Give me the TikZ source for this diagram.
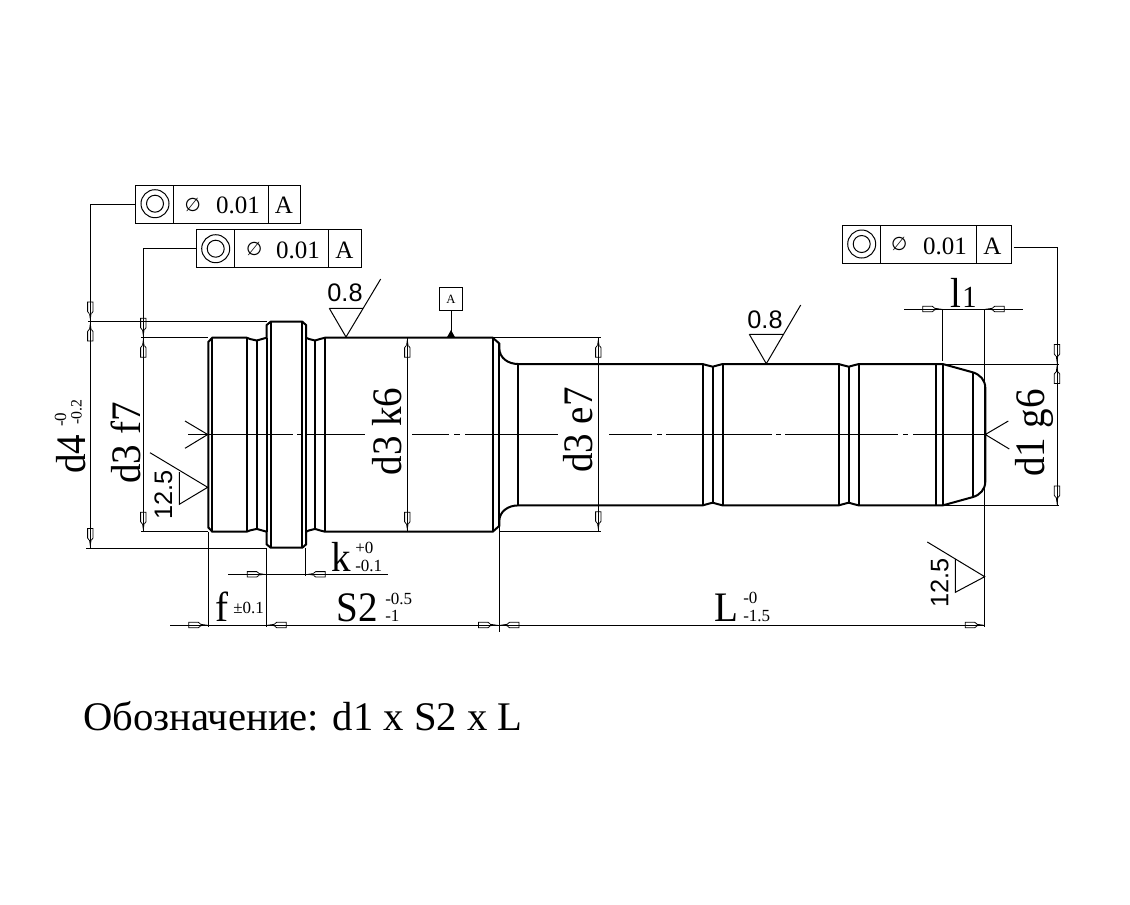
\documentclass[tikz,border=0pt]{standalone}
\usepackage{fontspec}
\setmainfont{Liberation Serif}
\newfontfamily\dimfont[FakeStretch=0.93]{Liberation Serif}
\newfontfamily\rsfont{Liberation Sans}
\newfontfamily\symfont{DejaVu Sans}
\tikzset{
  x=0.75pt,y=-0.75pt,
  thinline/.style={line width=0.75pt,line cap=butt},
  profile/.style={line width=1.5pt,line join=miter},
  centerline/.style={line width=0.75pt},
  big/.style={font=\dimfont\fontsize{31.5}{31.5}\selectfont,inner sep=0pt},
  tol/.style={font=\fontsize{12.75}{13}\selectfont,inner sep=0pt},
  rough/.style={font=\rsfont\fontsize{19}{19}\selectfont,inner sep=0pt},
  fcftext/.style={font=\fontsize{18.75}{19}\selectfont,inner sep=0pt,anchor=base},
  fcfsym/.style={font=\symfont\fontsize{14}{14}\selectfont,inner sep=0pt},
  frame/.style={draw,line width=0.75pt,inner sep=0pt,minimum height=28.5pt},
  dimtip/.pic={
    \fill (0,0)--(8,-1.2)--(8,1.2)--cycle;
    \draw[line width=0.6pt] (8,-1.2)--(10,-2.7)--(19.5,-2.7)--(19.5,2.7)--(10,2.7)--(8,1.2);
  }
}
\begin{document}
\begin{tikzpicture}
\useasboundingbox (0,0) rectangle (1130,904);
% shaft outline
\draw[profile] (208.3,342)--(212.3,337.7)--(246.7,337.7)--(250,339)--(256.7,340.5)--(262,339)--(266.7,337.7)
 --(266.7,325)--(270.7,321.7)--(302.3,321.7)--(306,325)--(306,337.7)--(309,339)--(315,340.5)--(320,339)--(325,337.7)
 --(492.7,337.7)--(499.3,343.5)--(499.3,348) .. controls (499.3,358) and (508,364) .. (518.3,364)
 --(702.7,364)--(706,365)--(712.7,366.7)--(717,365.5)--(722.7,364)--(838.7,364)--(842,365)--(848.7,366.7)--(853,365.5)--(859,364)
 --(942.7,364)--(972.7,372.3) .. controls (980,374.5) and (985.3,380) .. (985.3,388)
 --(985.3,481.4) .. controls (985.3,489.4) and (980,495) .. (972.7,497.1)
 --(942.7,505.4)--(859,505.4)--(853,503.9)--(848.7,502.7)--(842,504.4)--(838.7,505.4)--(722.7,505.4)--(717,503.9)--(712.7,502.7)--(706,504.4)--(702.7,505.4)
 --(518.3,505.4) .. controls (508,505.4) and (499.3,511.4) .. (499.3,521.4)
 --(499.3,525.9)--(492.7,531.7)--(325,531.7)--(320,530.4)--(315,528.9)--(309,530.4)--(306,531.7)
 --(306,544.4)--(302.3,547.7)--(270.7,547.7)--(266.7,544.4)--(266.7,531.7)--(262,530.4)--(256.7,528.9)--(250,530.4)--(246.7,531.7)
 --(212.3,531.7)--(208.3,527.4)--cycle;
% internal verticals
\draw[profile]
 (212.3,337.7)--(212.3,531.7)
 (246.7,337.7)--(246.7,531.7)
 (256.7,340.5)--(256.7,528.9)
 (266.7,337.7)--(266.7,531.7)
 (270.7,321.7)--(270.7,547.7)
 (302.3,321.7)--(302.3,547.7)
 (306,337.7)--(306,531.7)
 (315,340.5)--(315,528.9)
 (325,337.7)--(325,531.7)
 (492.7,337.7)--(492.7,531.7)
 (499.3,343.5)--(499.3,525.9)
 (518.3,364)--(518.3,505.4)
 (702.7,364)--(702.7,505.4)
 (712.7,366.7)--(712.7,502.7)
 (722.7,364)--(722.7,505.4)
 (838.7,364)--(838.7,505.4)
 (848.7,366.7)--(848.7,502.7)
 (859,364)--(859,505.4)
 (936,364)--(936,505.4)
 (942.7,364)--(942.7,505.4)
 (972.7,372.3)--(972.7,497.1);
% centre line
\draw[centerline]
 (188,434.5)--(293,434.5) (297,434.5)--(302,434.5) (305,434.5)--(365,434.5)
 (412,434.5)--(449,434.5) (454,434.5)--(460,434.5) (465,434.5)--(558,434.5)
 (609,434.5)--(652,434.5) (657,434.5)--(662,434.5) (666,434.5)--(771.5,434.5)
 (776,434.5)--(781,434.5) (785,434.5)--(898,434.5) (903,434.5)--(908,434.5) (913,434.5)--(985,434.5);
% feature control frames
\node[frame,minimum width=123.75pt] (fcfa) at (217.8,204.2) {};
\node[frame,minimum width=124pt] (fcfb) at (279,248.5) {};
\node[frame,minimum width=127pt] (fcfc) at (927,244.3) {};
\draw[thinline] (173.7,185.2)--(173.7,223.2) (268.7,185.2)--(268.7,223.2)
 (234.7,229.5)--(234.7,267.5) (328.3,229.5)--(328.3,267.5)
 (880.3,225.3)--(880.3,263.3) (976.3,225.3)--(976.3,263.3);
\draw[thinline] (155,203.7) circle (14) (155,203.7) circle (8.5)
 (215.7,248.7) circle (14) (215.7,248.7) circle (8.5)
 (861.7,244) circle (14) (861.7,244) circle (8.5);
\node[fcfsym] (phia) at (192.7,204.5) {∅};
\node[fcfsym] (phib) at (254.3,248.7) {∅};
\node[fcfsym] (phic) at (899.3,244.3) {∅};
\node[fcftext] (vala) at (238,213.3) {0.01};
\node[fcftext] (valb) at (298,258.7) {0.01};
\node[fcftext] (valc) at (945,254) {0.01};
\node[fcftext] (refa) at (284,213.3) {A};
\node[fcftext] (refb) at (344.5,258.7) {A};
\node[fcftext] (refc) at (992.3,254) {A};
% leaders
\coordinate (d4end) at (90.3,548);
\coordinate (d3fend) at (143.3,531.7);
\coordinate (d1end) at (1057,505.4);
\draw[thinline] (fcfa.west) -- (90.3,204.2) -- (d4end);
\draw[thinline] (fcfb.west) -- (143.3,248.5) -- (d3fend);
\draw[thinline] (1013.5,247.3) -- (1057,247.3) -- (d1end);
% extension lines
\draw[thinline]
 (88,321.5)--(266.7,321.5) (86,548)--(266.7,548)
 (141,337.7)--(208.3,337.7) (141,531.7)--(208.3,531.7)
 (208.3,531.7)--(208.3,627) (266.7,548)--(266.7,627) (305.7,548)--(305.7,576)
 (499.3,526)--(499.3,632)
 (492.7,337.7)--(600.7,337.7) (499.3,531.2)--(600.7,531.2)
 (942.7,309)--(942.7,360.7) (984.7,309)--(984.7,627)
 (942.7,364)--(1059,364) (942.7,505.4)--(1059,505.4);
% dimension lines
\draw[thinline]
 (407.3,337.7)--(407.3,531.7)
 (598.3,337.7)--(598.3,531.2)
 (228.3,574.3)--(387.7,574.3)
 (170,625)--(984.7,625)
 (904,309)--(1023.3,309);
% arrow tips
\foreach \px/\py/\ang in {
  90.3/321.5/90, 90.3/321.5/-90, 90.3/548/90,
  143.3/337.7/90, 143.3/337.7/-90, 143.3/531.7/90,
  407.3/337.7/-90, 407.3/531.7/90,
  598.3/337.7/-90, 598.3/531.2/90,
  1057/364/90, 1057/364/-90, 1057/505.4/90,
  942.3/309/180, 984.7/309/0,
  266.7/574.3/180, 305.7/574.3/0,
  208.3/625/180, 266.7/625/0,
  498/625/180, 499.5/625/0, 984.7/625/180}
{ \pic[rotate=\ang] at (\px,\py) {dimtip}; }
% centre marks
\draw[thinline] (185,421)--(207.7,434.5)--(185,448.3);
\draw[thinline] (1008.3,421)--(985.3,434.5)--(1009.3,449);
% roughness symbols
\draw[thinline] (150,452.7)--(207.7,487.3)--(179.3,504.3)--(179.3,472);
\draw[thinline] (927.3,542)--(984.7,576.7)--(955.3,592.3)--(955.3,559.3);
\draw[thinline] (329.3,308.3)--(363.3,308.3) (346,337)--(380.7,279) (329.3,308.3)--(346,337);
\draw[thinline] (749.3,334.3)--(783.3,334.3) (766.3,363.7)--(800.7,305) (749.3,334.3)--(766.3,363.7);
\node[rough,rotate=90] (ra) at (163.5,495) {12.5};
\node[rough,rotate=90] (rb) at (939.7,583) {12.5};
\node[rough] (rc) at (345,293) {0.8};
\node[rough] (rd) at (765,320) {0.8};
% datum
\node[draw,line width=0.75pt,minimum width=17.5pt,minimum height=17.5pt,inner sep=0pt,font=\fontsize{9.5}{10}\selectfont] (datum) at (451,299) {A};
\coordinate (datumfoot) at (451,337);
\draw[thinline] (datum.south) -- (datumfoot);
\fill (446.7,337.7)--(455.3,337.7)--(451,330)--cycle;
% dimension texts
\node[big,rotate=90,anchor=base] (td4) at (85,454) {d4};
\node[tol,rotate=90,anchor=base west] (td4a) at (66,427) {-0};
\node[tol,rotate=90,anchor=base west,font=\fontsize{11.85}{12}\selectfont] (td4b) at (81.7,425) {-0.2};
\node[big,rotate=90,anchor=base] (tf7) at (140,443) {d3 f7};
\node[big,rotate=90,anchor=base] (tk6) at (401.7,431.5) {d3 k6};
\node[big,rotate=90,anchor=base] (te7) at (592.7,430) {d3 e7};
\node[big,rotate=90,anchor=base] (tg6) at (1044,433) {d1 g6};
\node[big,anchor=base west] (tl1a) at (950,307) {l};
\node[big,anchor=base west,font=\dimfont\fontsize{23}{23}\selectfont] (tl1b) at (962,307) {1};
\node[big,anchor=base west] (tk) at (331.7,571) {k};
\node[tol,anchor=base west] (tka) at (355,553.3) {+0};
\node[tol,anchor=base west] (tkb) at (355,571) {-0.1};
\node[big,anchor=base west] (tf) at (215,621) {f};
\node[tol,anchor=base west] (tfa) at (233,613.3) {±0.1};
\node[big,anchor=base west] (ts) at (336.7,621.7) {S2};
\node[tol,anchor=base west] (tsa) at (385,604) {-0.5};
\node[tol,anchor=base west] (tsb) at (385,621.7) {-1};
\node[big,anchor=base west] (tL) at (714,621.7) {L};
\node[tol,anchor=base west] (tLa) at (743,603.3) {-0};
\node[tol,anchor=base west] (tLb) at (743,621.7) {-1.5};
\node[anchor=base west,inner sep=0pt,font=\fontsize{30.5}{30.5}\selectfont] (desig) at (83,730) {Обозначение: d1 x S2 x L};
\end{tikzpicture}
\end{document}
